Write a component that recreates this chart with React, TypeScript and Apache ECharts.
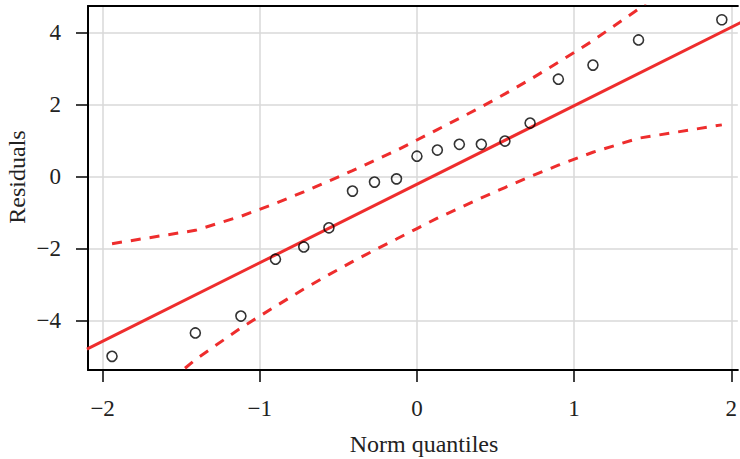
import React, { useEffect, useRef } from "react";
import * as echarts from "echarts";

const normQuantiles = [-1.94, -1.41, -1.12, -0.9, -0.72, -0.56, -0.41, -0.27, -0.13, 0, 0.13, 0.27, 0.41, 0.56, 0.72, 0.9, 1.12, 1.41, 1.94];
const residuals = [-4.99, -4.34, -3.87, -2.29, -1.95, -1.42, -0.4, -0.15, -0.06, 0.57, 0.74, 0.9, 0.9, 0.99, 1.49, 2.71, 3.1, 3.8, 4.36];
const upperBand = [-1.86, -1.49, -1.1, -0.74, -0.42, -0.12, 0.17, 0.45, 0.73, 1.02, 1.31, 1.62, 1.94, 2.3, 2.7, 3.18, 3.78, 4.66, 6.59];
const lowerBand = [-7.01, -5.08, -4.2, -3.6, -3.12, -2.72, -2.36, -2.04, -1.73, -1.44, -1.15, -0.87, -0.59, -0.3, 0.0, 0.32, 0.68, 1.07, 1.44];
const refLineX = [-2.1, 2.1];
const refLineY = [-4.79, 4.37];
const xTicks = [-2, -1, 0, 1, 2];
const yTicks = [-4, -2, 0, 2, 4];

const RED = "#ee2d2d";
const FONT = "Liberation Serif";
const X_MIN = -2.093;
const X_MAX = 2.042;

const fmt = (v: number) => (v < 0 ? "\u2212" + Math.abs(v) : String(v));

export default function App() {
  const ref = useRef<HTMLDivElement>(null);
  useEffect(() => {
    document.body.style.margin = "0";
    const chart = echarts.init(ref.current!, null, { renderer: "svg" });
    const zip = (xs: number[], ys: number[]) => xs.map((x, i) => [x, ys[i]]);
    chart.setOption({
      animation: false,
      grid: {
        left: 88,
        top: 6,
        right: 0,
        bottom: 89,
        show: false,
      },
      xAxis: [
        {
          type: "value",
          min: X_MIN,
          max: X_MAX,
          axisLine: { show: true, onZero: false, lineStyle: { color: "#000", width: 2 } },
          axisTick: { show: true, length: 12, customValues: xTicks, lineStyle: { color: "#000", width: 1.5 } },
          axisLabel: {
            customValues: xTicks,
            formatter: fmt,
            margin: 27,
            fontFamily: FONT,
            fontSize: 23,
            color: "#222",
          },
          splitLine: { show: true, lineStyle: { color: "#d9d9d9", width: 1.5 } },
        },
        {
          type: "value",
          position: "top",
          min: X_MIN,
          max: X_MAX,
          axisLine: { show: true, onZero: false, lineStyle: { color: "#000", width: 2 } },
          axisTick: { show: false },
          axisLabel: { show: false },
          splitLine: { show: false },
        },
      ],
      yAxis: {
        type: "value",
        min: -5.369,
        max: 4.742,
        axisLine: { show: true, onZero: false, lineStyle: { color: "#000", width: 2 } },
        axisTick: { show: true, length: 12, customValues: yTicks, lineStyle: { color: "#000", width: 1.5 } },
        axisLabel: {
          customValues: yTicks,
          formatter: fmt,
          margin: 27,
          fontFamily: FONT,
          fontSize: 23,
          color: "#222",
        },
        splitLine: { show: true, lineStyle: { color: "#d9d9d9", width: 1.5 } },
      },
      graphic: [
        {
          type: "text",
          x: 424,
          y: 444,
          style: {
            text: "Norm quantiles",
            fontFamily: FONT,
            fontSize: 24,
            fill: "#222",
            align: "center",
            verticalAlign: "middle",
          },
        },
        {
          type: "text",
          x: 17,
          y: 177,
          rotation: Math.PI / 2,
          style: {
            text: "Residuals",
            fontFamily: FONT,
            fontSize: 24,
            fill: "#222",
            align: "center",
            verticalAlign: "middle",
          },
        },
      ],
      series: [
        {
          type: "line",
          data: zip(refLineX, refLineY),
          showSymbol: false,
          lineStyle: { color: RED, width: 3 },
          z: 3,
        },
        {
          type: "line",
          data: zip(normQuantiles, upperBand),
          showSymbol: false,
          lineStyle: { color: RED, width: 3, type: [10, 9] },
          z: 3,
        },
        {
          type: "line",
          data: zip(normQuantiles, lowerBand),
          showSymbol: false,
          lineStyle: { color: RED, width: 3, type: [10, 9] },
          z: 3,
        },
        {
          type: "scatter",
          data: zip(normQuantiles, residuals),
          symbol: "circle",
          symbolSize: 10,
          itemStyle: { color: "rgba(0,0,0,0)", borderColor: "#000", borderWidth: 1.6 },
          z: 4,
        },
      ],
    });
    return () => chart.dispose();
  }, []);
  return <div ref={ref} style={{ width: 740, height: 459 }} />;
}
